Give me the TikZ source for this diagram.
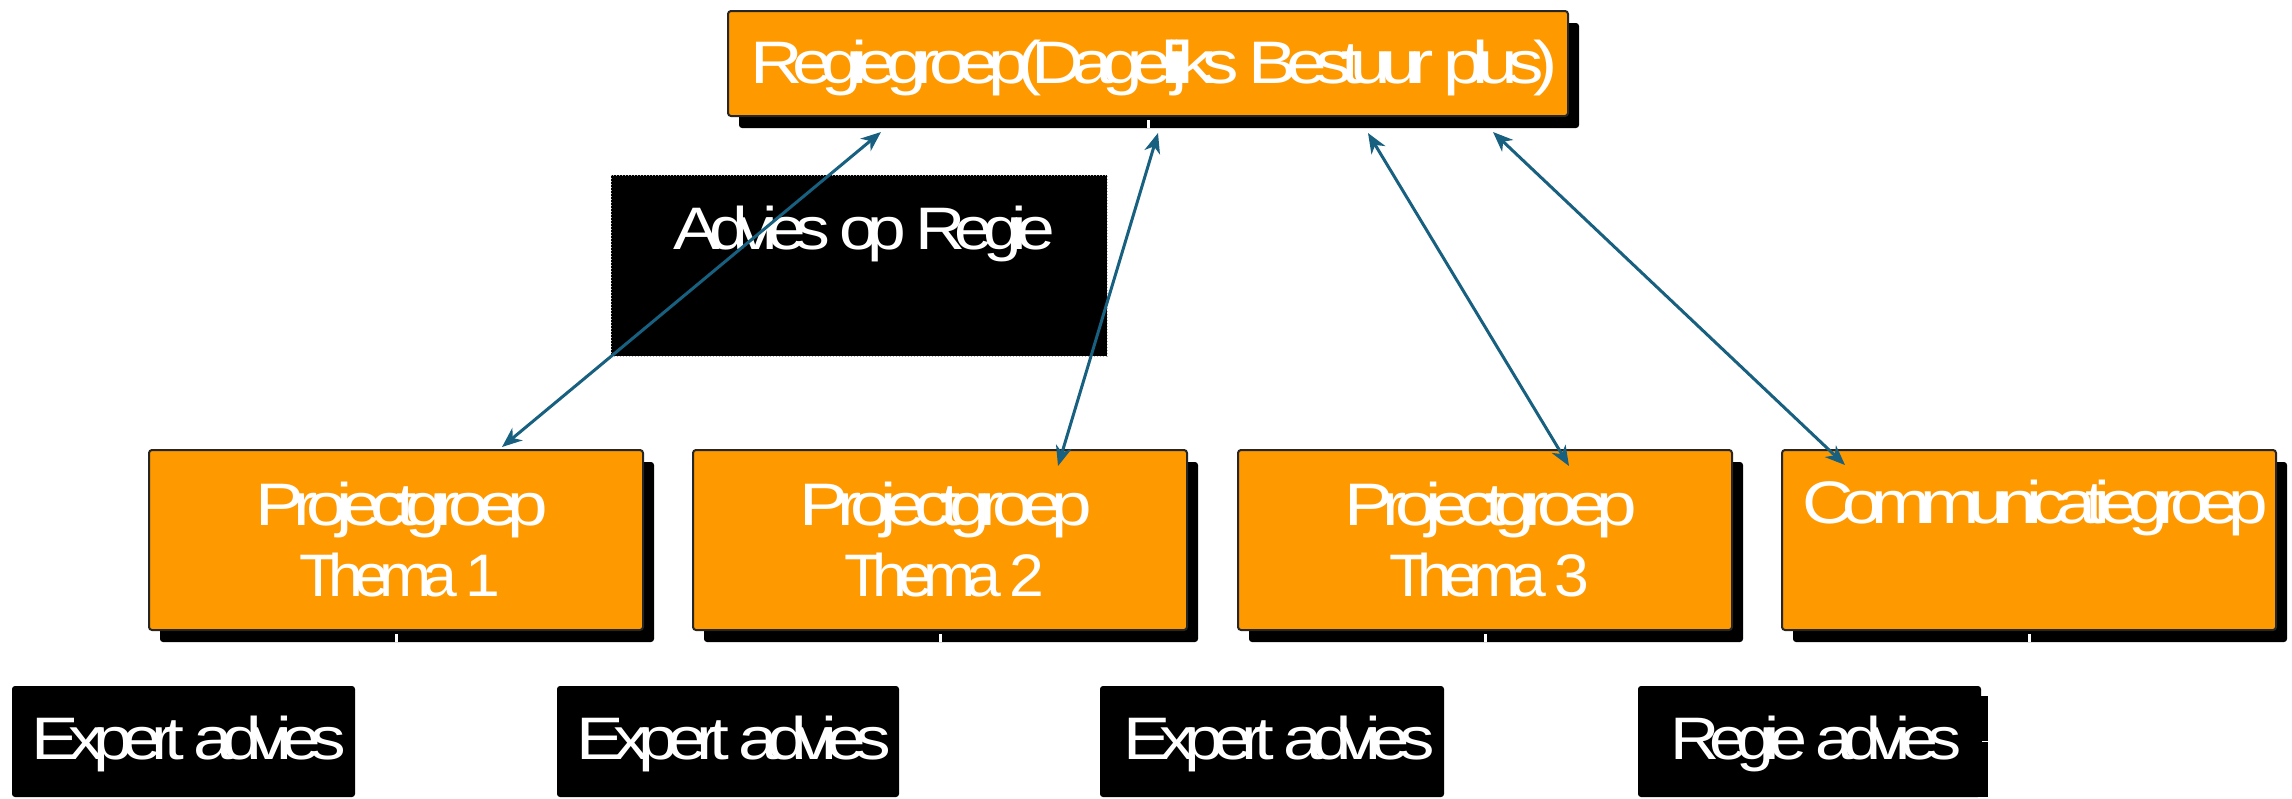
\documentclass[tikz,border=0pt]{standalone}
\usepackage{fontspec}
\usepackage{graphicx}
\usetikzlibrary{arrows.meta,shadows}
\newfontfamily\af{Liberation Sans}[LetterSpace=-15]
\definecolor{orgfill}{RGB}{255,153,0}
\definecolor{linkblue}{RGB}{24,96,128}
\newcommand\fitw[2]{\resizebox{#1}{\height}{#2}}
\tikzset{
  obox/.style={fill=orgfill,draw=black!85,line width=1pt,rounded corners=1.5pt,inner sep=0pt,outer sep=0pt,
    drop shadow={shadow xshift=5.5pt,shadow yshift=-6pt,opacity=1,fill=black}},
  lowbox/.style={obox,minimum width=247pt,minimum height=90pt},
  blackbox/.style={fill=black,rounded corners=1.5pt,inner sep=0pt,outer sep=0pt,minimum height=55.5pt},
  txt/.style={text=white,inner sep=0pt,outer sep=0pt,anchor=base,font=\af\fontsize{30pt}{30pt}\selectfont},
  link/.style={draw=linkblue,line width=1.5pt,{Stealth[length=10pt,width=8pt,inset=3pt]}-{Stealth[length=10pt,width=8pt,inset=3pt]}},
  gap/.style={draw=white,line width=1.5pt}
}
\begin{document}
\begin{tikzpicture}[x=0.5pt,y=-0.5pt]
\useasboundingbox (0,0) rectangle (2292,798);
\fill[white] (0,0) rectangle (2292,798);

% top box
\node[obox,minimum width=420pt,minimum height=52.5pt] (top) at (1148,63.5) {};
\node[txt] (topT) at (1154,83) {\fitw{403.5pt}{Regiegroep(Dagelijks Bestuur plus)}};

% advies box
\node[fill=black,draw=gray!60,densely dotted,line width=0.5pt,inner sep=0pt,outer sep=0pt,
      minimum width=248pt,minimum height=90.5pt] (adv) at (859,265.5) {};
\node[txt] (advT) at (864.5,249) {\fitw{190.5pt}{Advies op Regie}};

% lower boxes
\node[lowbox] (p1) at (396,540) {};
\node[lowbox] (p2) at (940,540) {};
\node[lowbox] (p3) at (1485,540) {};
\node[lowbox] (p4) at (2029,540) {};

\node[txt] (p1a) at (402,525) {\fitw{146.5pt}{Projectgroep}};
\node[txt] (p1b) at (400,596) {\fitw{100pt}{Thema 1}};
\node[txt] (p2a) at (946,525) {\fitw{146.5pt}{Projectgroep}};
\node[txt] (p2b) at (944,596) {\fitw{100pt}{Thema 2}};
\node[txt] (p3a) at (1491,525) {\fitw{146.5pt}{Projectgroep}};
\node[txt] (p3b) at (1489,596) {\fitw{100pt}{Thema 3}};
\node[txt] (p4a) at (2035,523) {\fitw{233pt}{Communicatiegroep}};

% gaps in shadows
\draw[gap] ([yshift=-2pt]top.south) -- ([yshift=-6pt]top.south);
\foreach \b in {p1,p2,p3,p4} \draw[gap] ([yshift=-2pt]\b.south) -- ([yshift=-6pt]\b.south);

% bottom black boxes
\node[blackbox,minimum width=171.5pt] (e1) at (183.5,741.5) {};
\node[blackbox,minimum width=171pt] (e2) at (728,741.5) {};
\node[blackbox,minimum width=172pt] (e3) at (1272,741.5) {};
\node[blackbox,minimum width=171.5pt] (r) at (1809.5,741.5) {};
\fill[black] ([shift={(-4,10)}]r.north east) rectangle ([shift={(7,0)}]r.south east);
\draw[white,line width=0.6pt] ([shift={(1,0)}]r.east) -- ([shift={(7,0)}]r.east);

\node[txt] (e1T) at (189,759) {\fitw{157pt}{Expert advies}};
\node[txt] (e2T) at (734,759) {\fitw{157pt}{Expert advies}};
\node[txt] (e3T) at (1279,759) {\fitw{156pt}{Expert advies}};
\node[txt] (rT) at (1816,759) {\fitw{146pt}{Regie advies}};

% connectors
\coordinate (t1) at ([shift={(153,16)}]top.south west);
\coordinate (t2) at ([shift={(430,17)}]top.south west);
\coordinate (t3) at ([shift={(640,17)}]top.south west);
\coordinate (t4) at ([shift={(765,16)}]top.south west);
\coordinate (b1) at ([shift={(106,-3)}]p1.north);
\coordinate (b2) at ([shift={(118,16)}]p2.north);
\coordinate (b3) at ([shift={(84,16)}]p3.north);
\coordinate (b4) at ([shift={(-184,15)}]p4.north);
\draw[link] (t1) -- (b1);
\draw[link] (t2) -- (b2);
\draw[link] (t3) -- (b3);
\draw[link] (t4) -- (b4);
\end{tikzpicture}
\end{document}
